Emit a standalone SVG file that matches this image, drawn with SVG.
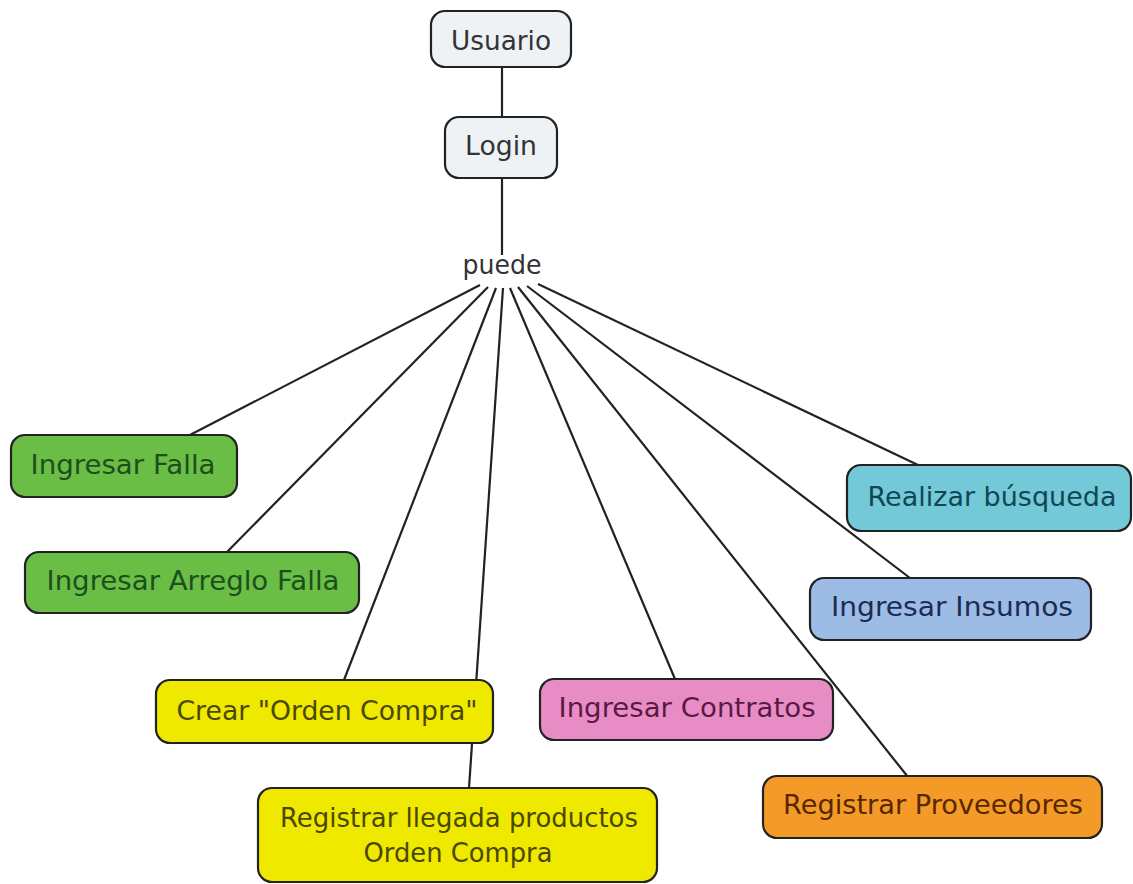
<svg xmlns="http://www.w3.org/2000/svg" width="1133" height="884" viewBox="0 0 1133 884">
  <style>
    .box { stroke: #222; stroke-width: 2.2; }
    .lbl { font-family: "DejaVu Sans", Verdana, sans-serif; font-size: 26.5px; text-anchor: middle; }
    .conn line { stroke: #222; stroke-width: 2.2; fill: none; }
    .gray { fill: #eef2f4; }
    .green { fill: #6abd45; }
    .yellow { fill: #efe900; }
    .pink { fill: #e88cc6; }
    .blue { fill: #9cbce6; }
    .cyan { fill: #74c9d8; }
    .orange { fill: #f39a28; }
  </style>
  <rect width="1133" height="884" fill="#ffffff"/>

  <!-- connectors, drawn under the nodes -->
  <g id="connectors" class="conn">
    <line x1="502" y1="67" x2="502" y2="117"/>
    <line x1="502" y1="178" x2="502" y2="255"/>
    <line x1="480" y1="285" x2="188" y2="436"/>
    <line x1="488" y1="287" x2="227" y2="552"/>
    <line x1="496" y1="288" x2="344" y2="680"/>
    <line x1="503" y1="288" x2="469" y2="788"/>
    <line x1="510" y1="288" x2="675" y2="679"/>
    <line x1="518" y1="287" x2="908" y2="777"/>
    <line x1="527" y1="286" x2="910" y2="578"/>
    <line x1="538" y1="284" x2="918" y2="465"/>
  </g>

  <g id="usuario">
    <rect class="box gray" x="431" y="11" width="140" height="56" rx="14"/>
    <text class="lbl" x="501" y="50" fill="#333" textLength="100" lengthAdjust="spacingAndGlyphs">Usuario</text>
  </g>

  <g id="login">
    <rect class="box gray" x="445" y="117" width="112" height="61" rx="14"/>
    <text class="lbl" x="501" y="155" fill="#333" textLength="72" lengthAdjust="spacingAndGlyphs">Login</text>
  </g>

  <g id="puede">
    <text class="lbl" x="502" y="274" fill="#333" textLength="79" lengthAdjust="spacingAndGlyphs">puede</text>
  </g>

  <g id="ingresar-falla">
    <rect class="box green" x="11" y="435" width="226" height="62" rx="14"/>
    <text class="lbl" x="123" y="474" fill="#1c4f1c" textLength="185" lengthAdjust="spacingAndGlyphs">Ingresar Falla</text>
  </g>

  <g id="ingresar-arreglo-falla">
    <rect class="box green" x="25" y="552" width="334" height="61" rx="14"/>
    <text class="lbl" x="193" y="590" fill="#1c4f1c" textLength="293" lengthAdjust="spacingAndGlyphs">Ingresar Arreglo Falla</text>
  </g>

  <g id="crear-orden-compra">
    <rect class="box yellow" x="156" y="680" width="337" height="63" rx="14"/>
    <text class="lbl" x="327" y="720" fill="#4a4800" textLength="301" lengthAdjust="spacingAndGlyphs">Crear "Orden Compra"</text>
  </g>

  <g id="registrar-llegada">
    <rect class="box yellow" x="258" y="788" width="399" height="94" rx="14"/>
    <text class="lbl" x="459" y="827" fill="#4a4800" textLength="358" lengthAdjust="spacingAndGlyphs">Registrar llegada productos</text>
    <text class="lbl" x="458" y="862" fill="#4a4800" textLength="189" lengthAdjust="spacingAndGlyphs">Orden Compra</text>
  </g>

  <g id="ingresar-contratos">
    <rect class="box pink" x="540" y="679" width="293" height="61" rx="14"/>
    <text class="lbl" x="687" y="717" fill="#5a1a40" textLength="257" lengthAdjust="spacingAndGlyphs">Ingresar Contratos</text>
  </g>

  <g id="realizar-busqueda">
    <rect class="box cyan" x="847" y="465" width="284" height="66" rx="14"/>
    <text class="lbl" x="992" y="506" fill="#0f4752" textLength="249" lengthAdjust="spacingAndGlyphs">Realizar búsqueda</text>
  </g>

  <g id="ingresar-insumos">
    <rect class="box blue" x="810" y="578" width="281" height="62" rx="14"/>
    <text class="lbl" x="952" y="616" fill="#1b2b52" textLength="242" lengthAdjust="spacingAndGlyphs">Ingresar Insumos</text>
  </g>

  <g id="registrar-proveedores">
    <rect class="box orange" x="763" y="776" width="339" height="62" rx="14"/>
    <text class="lbl" x="933" y="814" fill="#572700" textLength="300" lengthAdjust="spacingAndGlyphs">Registrar Proveedores</text>
  </g>
</svg>
